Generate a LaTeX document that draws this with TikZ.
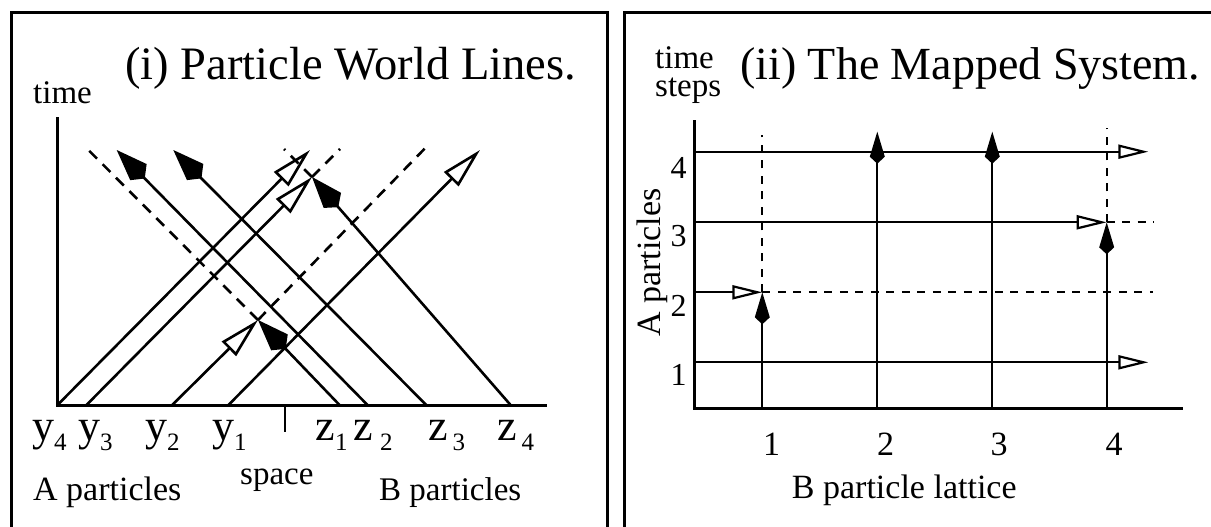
\documentclass[tikz,border=0pt]{standalone}
\usepackage{fontspec}
\setmainfont{Liberation Serif}
\usetikzlibrary{arrows.meta}
\newcommand\setfs[1]{\fontsize{#1}{#1}\selectfont}
\newcommand\lab[3]{{\setfs{44}#1}\kern#2pt\raisebox{-10pt}{\setfs{25}#3}}
\begin{document}
\begin{tikzpicture}[x=1pt,y=-1pt,
  frame/.style={line width=3pt},
  axis/.style={line width=3pt},
  wl/.style={line width=2.6pt},
  wlvirt/.style={line width=2.6pt, dash pattern=on 11pt off 8pt},
  txt/.style={inner sep=0pt, anchor=base west},
  ctxt/.style={inner sep=0pt, anchor=base},
  aopen/.style={-{Triangle[open,length=41pt,width=20pt]}},
  bfill/.style={-{Kite[length=40pt,width=23pt,inset=9pt]}},
  gl/.style={line width=2.2pt},
  gdash/.style={line width=2.2pt, dash pattern=on 8pt off 7.5pt},
  gopen/.style={-{Triangle[open,length=30pt,width=14pt]}},
  gfill/.style={-{Kite[length=32pt,width=15pt,inset=7pt]}}
]
\useasboundingbox (0,0) rectangle (1211,527);
% frames
\draw[frame] (11,528) -- (11,12.7) -- (607,12.7) -- (607,528);
\draw[frame] (624,528) -- (624,12.7) -- (1212,12.7);

% ---------- panel (i) ----------
\coordinate (O) at (57,405.5);
\coordinate (Ytop) at (57,117);
\coordinate (Xend) at (547,405.5);
\coordinate (y4) at (57,405.5);
\coordinate (y3) at (86,405.5);
\coordinate (y2) at (171.7,405.5);
\coordinate (y1) at (228,405.5);
\coordinate (z1) at (340,405.5);
\coordinate (z2) at (368,405.5);
\coordinate (z3) at (426.7,405.5);
\coordinate (z4) at (511,405.5);
\coordinate (tk) at (285,405.5);
\coordinate (tkb) at (285,432);
\coordinate (C1) at (258,320);
\coordinate (C2) at (312,177);
\coordinate (t4) at (310,150);
\coordinate (t1) at (480,150);
\coordinate (u2) at (116.7,150);
\coordinate (u3) at (173.3,150);
\coordinate (d1) at (86.7,148.3);
\coordinate (d2) at (425,148.3);
\coordinate (d3) at (284,149);
\coordinate (d4) at (340,149);

\draw[axis] (Ytop) -- (O) -- (Xend);
\draw[line width=2pt] (tk) -- (tkb);

\draw[wlvirt] (C1) -- (d1);
\draw[wlvirt] (C1) -- (d2);
\draw[wlvirt] (C2) -- (d3);
\draw[wlvirt] (C2) -- (d4);

\draw[wl,aopen] (y4) -- (t4);
\draw[wl,aopen] (y3) -- (C2);
\draw[wl,aopen] (y2) -- (C1);
\draw[wl,aopen] (y1) -- (t1);
\draw[wl,bfill] (z1) -- (C1);
\draw[wl,bfill] (z2) -- (u2);
\draw[wl,bfill] (z3) -- (u3);
\draw[wl,bfill] (z4) -- (C2);

\node[txt] (time1) at (33,103) {\setfs{33}time};
\node[txt] (title1) at (125,80) {\setfs{46.5}(i) Particle World Lines.};

\node[txt] (ly4) at (32,440) {\lab{y}{0}{4}};
\node[txt] (ly3) at (78,440) {\lab{y}{0}{3}};
\node[txt] (ly2) at (145,440) {\lab{y}{0}{2}};
\node[txt] (ly1) at (212,440) {\lab{y}{0}{1}};
\node[txt] (lz1) at (315,440) {\lab{z}{0.5}{1}};
\node[txt] (lz2) at (353.3,440) {\lab{z}{7}{2}};
\node[txt] (lz3) at (428,440) {\lab{z}{5}{3}};
\node[txt] (lz4) at (497,440) {\lab{z}{5}{4}};

\node[txt] (apart) at (33,500) {\setfs{34}A particles};
\node[txt] (space) at (240,484) {\setfs{33}space};
\node[txt] (bpart) at (379,500) {\setfs{33}B particles};

% ---------- panel (ii) ----------
\coordinate (P) at (694,408.3);
\coordinate (Ptop) at (694,120);
\coordinate (Pend) at (1183.3,408.3);
\coordinate (r1) at (694,362.3);
\coordinate (r2) at (694,292.3);
\coordinate (r3) at (694,222.3);
\coordinate (r4) at (694,151.7);
\coordinate (e1) at (1148.3,362.3);
\coordinate (e4) at (1148.3,151.7);
\coordinate (M12) at (762.3,292.3);
\coordinate (M43) at (1106.7,222.3);
\coordinate (e2) at (1153.3,292.3);
\coordinate (e3) at (1153.3,222.3);
\coordinate (c1) at (762.3,408.3);
\coordinate (c2) at (877.3,408.3);
\coordinate (c3) at (992.3,408.3);
\coordinate (c4) at (1106.7,408.3);
\coordinate (f1) at (762.3,135);
\coordinate (f2) at (877.3,131.7);
\coordinate (f3) at (992.3,131.7);
\coordinate (f4) at (1106.7,128.3);

\draw[gdash] (M12) -- (e2);
\draw[gdash] (M43) -- (e3);
\draw[gdash] (M12) -- (f1);
\draw[gdash] (M43) -- (f4);

\draw[gl,gopen] (r1) -- (e1);
\draw[gl,gopen] (r2) -- (M12);
\draw[gl,gopen] (r3) -- (M43);
\draw[gl,gopen] (r4) -- (e4);
\draw[gl,gfill] (c1) -- (M12);
\draw[gl,gfill] (c2) -- (f2);
\draw[gl,gfill] (c3) -- (f3);
\draw[gl,gfill] (c4) -- (M43);

\draw[axis] (Ptop) -- (P) -- (Pend);

\node[txt] (timesteps) at (655,96.7) {\fontsize{33}{28.4}\selectfont\begin{tabular}[b]{@{}l@{}}time\\steps\end{tabular}};
\node[txt] (title2) at (740,80) {\setfs{46}(ii) The Mapped System.};
\node[inner sep=0pt, anchor=base, rotate=90] (apart2) at (660,262.5) {\setfs{34}A particles};
\node[ctxt] (n4) at (678.5,178) {\setfs{32}4};
\node[ctxt] (n3) at (678.5,246.7) {\setfs{32}3};
\node[ctxt] (n2) at (678.5,316.7) {\setfs{32}2};
\node[ctxt] (n1) at (678.5,385) {\setfs{32}1};
\node[ctxt] (m1) at (771.7,455) {\setfs{34}1};
\node[ctxt] (m2) at (885.5,455) {\setfs{34}2};
\node[ctxt] (m3) at (999,455) {\setfs{34}3};
\node[ctxt] (m4) at (1114,455) {\setfs{34}4};
\node[txt] (blat) at (791.7,498.3) {\setfs{34}B particle lattice};
\end{tikzpicture}
\end{document}
